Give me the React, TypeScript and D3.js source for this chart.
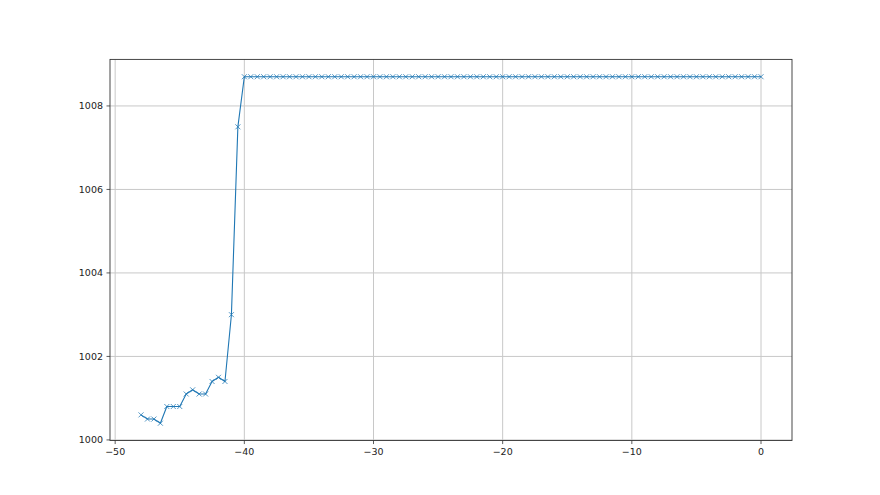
import React from "react";
import * as d3 from "d3";

const lowX: number[] = [-48, -47.5, -47, -46.5, -46, -45.5, -45, -44.5, -44, -43.5, -43, -42.5, -42, -41.5, -41, -40.5];
const lowY: number[] = [1000.6, 1000.5, 1000.5, 1000.4, 1000.8, 1000.8, 1000.8, 1001.1, 1001.2, 1001.1, 1001.1, 1001.4, 1001.5, 1001.4, 1003.0, 1007.5];
const plateauStart = -40;
const plateauEnd = 0;
const plateauStep = 0.5;
const plateauValue = 1008.7;
const xTicks: number[] = [-50, -40, -30, -20, -10, 0];
const yTicks: number[] = [1000, 1002, 1004, 1006, 1008];

function buildData() {
  const pts: { x: number; y: number }[] = lowX.map((x, i) => ({ x, y: lowY[i] }));
  const n = Math.round((plateauEnd - plateauStart) / plateauStep);
  for (let i = 0; i <= n; i++) {
    pts.push({ x: plateauStart + i * plateauStep, y: plateauValue });
  }
  return pts;
}

export default function App() {
  const W = 880, H = 495;
  const L = 110, R = 792, T = 59.4, B = 440.55;
  const data = buildData();
  const xmin = d3.min(data, d => d.x)!, xmax = d3.max(data, d => d.x)!;
  const ymin = d3.min(data, d => d.y)!, ymax = d3.max(data, d => d.y)!;
  const xm = (xmax - xmin) * 0.05, ym = (ymax - ymin) * 0.05;
  const x = d3.scaleLinear().domain([xmin - xm, xmax + xm]).range([L, R]);
  const y = d3.scaleLinear().domain([ymin - ym, ymax + ym]).range([B, T]);
  const line = d3.line<{ x: number; y: number }>().x(d => x(d.x)).y(d => y(d.y));
  const fmt = (v: number) => (v < 0 ? "\u2212" + Math.abs(v) : String(v));
  const font = "DejaVu Sans, sans-serif";
  const ms = 2.5;
  return (
    <svg width={W} height={H} style={{ position: "absolute", left: 0, top: 0, background: "#fff" }}>
      <rect x={0} y={0} width={W} height={H} fill="#fff" />
      {xTicks.map(t => (
        <line key={"gx" + t} x1={x(t)} x2={x(t)} y1={T} y2={B} stroke="#c8c8c8" strokeWidth={1} />
      ))}
      {yTicks.map(t => (
        <line key={"gy" + t} x1={L} x2={R} y1={y(t)} y2={y(t)} stroke="#c8c8c8" strokeWidth={1} />
      ))}
      <path d={line(data)!} fill="none" stroke="#1f77b4" strokeWidth={1.1} strokeLinejoin="round" />
      {data.map((d, i) => (
        <path key={"m" + i}
          d={`M${x(d.x) - ms},${y(d.y) - ms}L${x(d.x) + ms},${y(d.y) + ms}M${x(d.x) - ms},${y(d.y) + ms}L${x(d.x) + ms},${y(d.y) - ms}`}
          stroke="#1f77b4" strokeWidth={0.9} fill="none" opacity={0.85} />
      ))}
      <rect x={L} y={T} width={R - L} height={B - T} fill="none" stroke="#333" strokeWidth={0.9} />
      {xTicks.map(t => (
        <g key={"tx" + t}>
          <line x1={x(t)} x2={x(t)} y1={B} y2={B + 3.5} stroke="#333" strokeWidth={0.8} />
          <text x={x(t)} y={B + 7} dy="0.76em" textAnchor="middle" fontSize={9.5} fontFamily={font} fill="#222">{fmt(t)}</text>
        </g>
      ))}
      {yTicks.map(t => (
        <g key={"ty" + t}>
          <line x1={L - 3.5} x2={L} y1={y(t)} y2={y(t)} stroke="#333" strokeWidth={0.8} />
          <text x={L - 7} y={y(t)} dy="0.35em" textAnchor="end" fontSize={9.5} fontFamily={font} fill="#222">{fmt(t)}</text>
        </g>
      ))}
    </svg>
  );
}
